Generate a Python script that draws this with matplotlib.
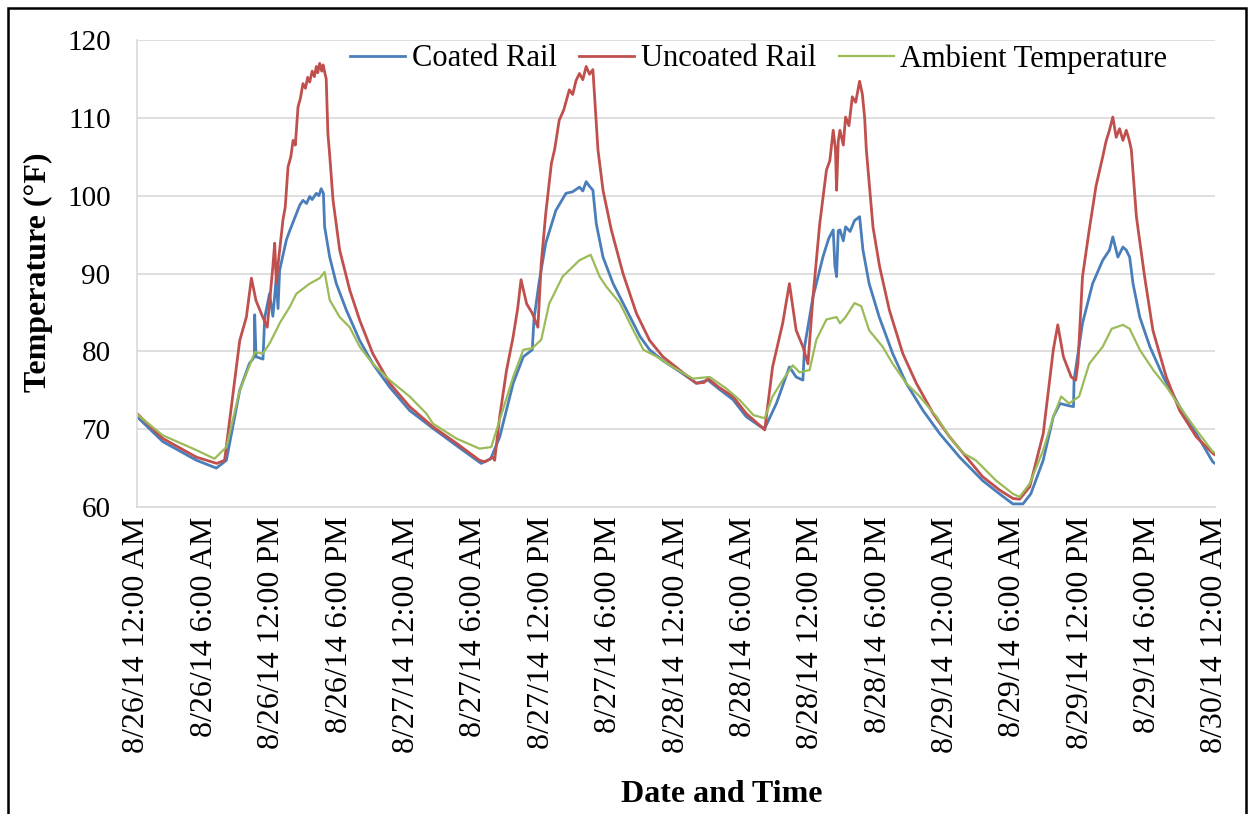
import numpy as np
import matplotlib
matplotlib.use("Agg")
import matplotlib.pyplot as plt
from matplotlib.patches import Rectangle

plt.rcParams['font.family'] = ['Liberation Serif', 'DejaVu Serif']

# hours since 8/26/14 12:00 AM and temperatures (°F)
coated_h = [0, 2.3, 5.3, 7.07, 7.96, 9.15, 10.0, 10.45, 10.48, 10.6, 11.22, 11.37, 11.8, 12.1, 12.4, 12.56,
            12.7, 13.3, 13.6, 14.2, 14.5, 14.78, 15.1, 15.38, 15.6, 15.97, 16.2, 16.4, 16.6, 16.71, 17.16,
            17.75, 18.64, 19.83, 21.0, 22.5, 24.28, 26.36, 28.44, 30.65, 31.5, 32.3, 33.5, 34.4, 35.2, 35.35,
            35.8, 36.4, 37.3, 38.2, 38.8, 39.4, 39.7, 40.0, 40.3, 40.6, 40.9, 41.5, 42.4, 43.6, 44.8, 45.65,
            46.84, 48.33, 49.81, 50.85, 51.8, 53.07, 54.26, 55.45, 55.9, 56.94, 58.1, 58.7, 59.3, 59.45, 60.2,
            61.1, 61.6, 62.0, 62.15, 62.3, 62.45, 62.6, 62.9, 63.1, 63.5, 63.9, 64.35, 64.65, 65.2, 66.1,
            67.3, 68.5, 70.0, 71.5, 73.26, 75.3, 76.8, 78.0, 78.9, 79.6, 80.7, 81.6, 82.2, 83.0, 83.4, 83.45,
            84.2, 85.1, 86.0, 86.6, 86.9, 87.35, 87.8, 88.1, 88.4, 88.7, 89.3, 90.2, 91.4, 92.85, 94.34,
            95.8, 96.0]
coated_t = [71.6, 68.4, 66.0, 65.0, 66.0, 75.0, 78.4, 79.3, 84.7, 79.3, 79.0, 84.3, 87.4, 84.5, 89.4, 85.5,
            90.4, 94.3, 95.5, 97.7, 98.8, 99.4, 99.0, 99.9, 99.5, 100.3, 100.0, 100.9, 100.3, 96.0, 92.1,
            88.7, 85.3, 81.4, 78.4, 75.4, 72.4, 70.1, 67.9, 65.6, 66.2, 69.0, 75.9, 79.3, 80.2, 84.1,
            88.8, 93.9, 98.1, 100.3, 100.5, 101.1, 100.6, 101.8, 101.2, 100.7, 96.4, 92.1, 88.7, 85.3, 81.9, 80.2,
            78.8, 77.4, 75.9, 76.3, 75.2, 73.8, 71.6, 70.4, 70.1, 73.3, 78.0, 76.7, 76.3, 80.6, 87.0,
            92.2, 94.5, 95.6, 91.0, 89.6, 95.5, 95.6, 94.2, 96.0, 95.4, 96.8, 97.3, 93.0, 88.7, 84.4,
            79.7, 75.9, 72.4, 69.4, 66.4, 63.4, 61.7, 60.4, 60.4, 61.7, 66.0, 71.6, 73.3, 73.0, 72.9, 76.3,
            83.6, 88.7, 91.7, 93.0, 94.7, 92.1, 93.4, 93.0, 92.1, 88.7, 84.4, 80.6, 76.7, 72.9, 69.4,
            65.8, 65.6]

uncoated_h = [0, 2.3, 5.3, 7.1, 7.8, 9.15, 9.74, 10.19, 10.6, 11.2, 11.6, 12.1, 12.26, 12.41, 12.55, 13.0,
              13.2, 13.45, 13.7, 13.9, 14.1, 14.34, 14.55, 14.78, 15.0, 15.2, 15.38, 15.6, 15.8, 15.97, 16.1,
              16.27, 16.45, 16.57, 16.85, 17.0, 17.16, 17.46, 18.05, 18.94, 19.83, 21.0, 22.5, 24.28, 26.36,
              28.44, 30.5, 31.0, 31.7, 31.85, 32.3, 32.9, 33.5, 33.9, 34.2, 34.7, 35.2, 35.7, 36.0, 36.4,
              36.9, 37.2, 37.6, 38.0, 38.5, 38.8, 39.1, 39.4, 39.7, 40.0, 40.3, 40.6, 40.75, 41.05, 41.5,
              42.24, 43.28, 44.47, 45.65, 46.84, 48.33, 49.81, 50.5, 50.85, 51.8, 53.07, 54.26, 55.45, 55.9,
              56.6, 57.5, 58.1, 58.7, 59.3, 59.75, 60.2, 60.8, 61.4, 61.7, 62.0, 62.2, 62.3, 62.45, 62.6,
              62.9, 63.1, 63.4, 63.7, 64.0, 64.35, 64.6, 64.8, 64.95, 65.54, 66.13, 67.0, 68.2, 69.4, 70.9,
              72.37, 73.86, 75.3, 76.8, 78.0, 78.6, 79.5, 80.7, 81.6, 82.0, 82.5, 83.2, 83.6, 83.8, 84.2,
              84.8, 85.4, 86.0, 86.3, 86.6, 86.9, 87.2, 87.5, 87.8, 88.1, 88.35, 88.55, 89.0, 89.73, 90.47,
              91.66, 92.85, 94.34, 95.8, 96.0]
uncoated_t = [72.0, 68.8, 66.4, 65.6, 66.0, 81.4, 84.4, 89.4, 86.5, 84.4, 83.1, 90.9, 93.9, 88.7, 91.0, 96.9,
              98.5, 103.7, 105.0, 107.1, 106.5, 111.4, 112.5, 114.4, 113.8, 115.2, 114.6, 116.0, 115.3, 116.6, 115.8,
              117.0, 116.0, 116.8, 115.0, 108.0, 105.2, 99.4, 93.0, 87.9, 84.0, 79.7, 75.9, 72.9, 70.3,
              68.2, 66.0, 65.8, 66.4, 66.0, 71.6, 77.5, 81.9, 85.5, 89.2, 86.1, 84.9, 83.1, 91.3, 97.7,
              104.1, 106.0, 109.7, 111.0, 113.6, 113.0, 114.8, 115.7, 114.9, 116.6, 115.6, 116.2, 112.7, 105.9, 100.7,
              95.6, 90.0, 84.9, 81.4, 79.3, 77.6, 75.9, 76.0, 76.5, 75.4, 74.2, 72.0, 70.5, 69.9,
              78.0, 83.6, 88.7, 82.7, 80.6, 78.4, 87.0, 96.4, 103.3, 104.5, 108.4, 106.0, 100.7, 107.0, 108.4,
              106.5, 110.1, 109.0, 112.7, 112.0, 114.7, 113.0, 110.0, 105.9, 96.0, 90.9, 85.3, 79.7, 75.9, 72.0,
              69.0, 66.4, 63.9, 62.2, 61.1, 61.0, 62.6, 69.4, 80.2, 83.4, 79.3, 76.7, 76.3, 78.5, 89.6,
              95.6, 101.2, 105.0, 107.0, 108.4, 110.1, 107.5, 108.6, 107.1, 108.4, 107.2, 105.9, 97.3, 89.6, 82.7,
              76.7, 72.4, 69.0, 66.9, 66.7]

ambient_h = [0, 2.3, 5.3, 6.9, 7.96, 9.15, 10.5, 11.2, 11.8, 12.4, 12.7, 13.6, 14.19, 15.38, 16.27, 16.71,
             17.16, 18.05, 18.94, 19.83, 21.0, 22.5, 24.28, 25.77, 26.36, 28.44, 30.5, 31.55, 32.3, 33.5, 34.4,
             35.2, 36.0, 36.7, 37.9, 39.4, 40.4, 41.2, 41.8, 43.0, 44.2, 45.1, 46.3, 47.7, 49.5, 51.0, 52.5,
             53.7, 54.9, 55.9, 56.6, 57.5, 58.4, 59.0, 59.9, 60.5, 61.4, 62.3, 62.6, 63.1, 63.9, 64.5, 65.2,
             66.4, 67.3, 68.5, 69.7, 71.2, 72.37, 73.6, 74.7, 76.5, 78.0, 78.6, 79.5, 80.7, 81.6, 82.3, 83.0,
             83.9, 84.8, 86.0, 86.8, 87.8, 88.4, 89.3, 90.5, 91.7, 92.85, 94.34, 95.8, 96.0]
ambient_t = [71.9, 69.2, 67.3, 66.2, 67.7, 75.0, 79.9, 79.7, 81.0, 82.7, 83.6, 85.7, 87.4, 88.7, 89.4, 90.2,
             86.6, 84.4, 83.1, 80.6, 78.4, 76.3, 74.2, 72.0, 70.7, 68.8, 67.5, 67.7, 71.2, 76.7, 80.2,
             80.4, 81.5, 86.1, 89.6, 91.7, 92.4, 89.6, 88.3, 86.2, 82.7, 80.2, 79.3, 78.0, 76.5, 76.7, 75.2,
             73.7, 71.8, 71.4, 74.2, 76.3, 78.2, 77.3, 77.6, 81.5, 84.1, 84.4, 83.6, 84.4, 86.2, 85.8, 82.7,
             80.6, 78.4, 75.9, 74.2, 71.6, 69.0, 66.9, 66.0, 63.4, 61.7, 61.3, 63.0, 67.3, 71.6, 74.2, 73.3,
             74.2, 78.4, 80.6, 82.9, 83.4, 82.9, 80.2, 77.6, 75.4, 72.9, 69.9, 67.1, 67.0]

tick_hours = list(range(0, 97, 6))
tick_labels = ["8/26/14 12:00 AM", "8/26/14 6:00 AM", "8/26/14 12:00 PM", "8/26/14 6:00 PM",
               "8/27/14 12:00 AM", "8/27/14 6:00 AM", "8/27/14 12:00 PM", "8/27/14 6:00 PM",
               "8/28/14 12:00 AM", "8/28/14 6:00 AM", "8/28/14 12:00 PM", "8/28/14 6:00 PM",
               "8/29/14 12:00 AM", "8/29/14 6:00 AM", "8/29/14 12:00 PM", "8/29/14 6:00 PM",
               "8/30/14 12:00 AM"]

fig = plt.figure(figsize=(12.54, 8.14), dpi=100)
ax = fig.add_axes([137/1254, 1-507/814, (1215-137)/1254, (507-40)/814])

ax.plot(coated_h, coated_t, color='#4a7ebb', lw=2.0, label='Coated Rail')
ax.plot(uncoated_h, uncoated_t, color='#c0504d', lw=2.0, label='Uncoated Rail')
ax.plot(ambient_h, ambient_t, color='#9bbb59', lw=1.6, label='Ambient Temperature')

ax.set_xlim(0, 96)
ax.set_ylim(60, 120)
ax.set_yticks(range(60, 121, 10))
ax.set_xticks(tick_hours)
ax.set_xticklabels(tick_labels, rotation=90)
ax.tick_params(axis='y', length=0, pad=19, labelsize=21)
ax.tick_params(axis='x', length=0, pad=7, labelsize=23)
ax.grid(axis='y', color='#d9d9d9', lw=1.2)
ax.set_axisbelow(True)
for s in ['top', 'right']:
    ax.spines[s].set_visible(False)
for s in ['left', 'bottom']:
    ax.spines[s].set_color('#d9d9d9')
    ax.spines[s].set_linewidth(1.2)

ax.legend(loc='upper right', bbox_to_anchor=(1167/1254, 1-44/814), bbox_transform=fig.transFigure,
          ncol=3, frameon=False, fontsize=22, handlelength=1.8, handletextpad=0.2,
          columnspacing=0.75, borderaxespad=0, borderpad=0)

fig.text(38/1254, 1-272/814, 'Temperature (°F)', rotation=90, ha='center', va='center',
         fontsize=23, fontweight='bold')
fig.text(722/1254, 1-795/814, 'Date and Time', ha='center', va='center',
         fontsize=23, fontweight='bold')

fig.patches.append(Rectangle((8/1254, -0.01), (1246-8)/1254, 1-8/814+0.01, transform=fig.transFigure,
                             fill=False, edgecolor='black', lw=1.8))

fig.savefig('out.png', dpi=100)
